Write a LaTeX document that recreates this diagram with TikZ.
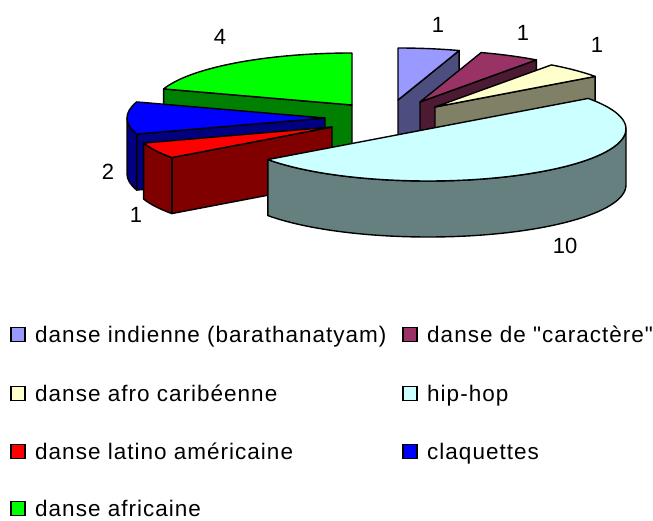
\documentclass[tikz,border=0pt]{standalone}
\usepackage{fontspec}
\setmainfont{Liberation Sans}
\newfontfamily\legfont[LetterSpace=4.5]{Liberation Sans}
\usetikzlibrary{calc}
\definecolor{indT}{HTML}{9999FF}\definecolor{indS}{HTML}{4D4D80}
\definecolor{carT}{HTML}{993366}\definecolor{carS}{HTML}{4D1A33}
\definecolor{afrT}{HTML}{FFFFCC}\definecolor{afrS}{HTML}{808066}
\definecolor{hipT}{HTML}{CCFFFF}\definecolor{hipS}{HTML}{668080}
\definecolor{latT}{HTML}{FF0000}\definecolor{latS}{HTML}{800000}
\definecolor{claT}{HTML}{0000FF}\definecolor{claS}{HTML}{000080}
\definecolor{afcT}{HTML}{00FF00}\definecolor{afcS}{HTML}{008000}
% top face: center, start angle, end angle, colour
\newcommand\topface[4]{\filldraw[face,fill=#4] (#1) -- ($(#1)+(#2:198 and 52)$) arc[start angle=#2,end angle=#3,x radius=198,y radius=52] -- cycle;}
% outer curved side: center, start, end, colour
\newcommand\outerside[4]{\filldraw[face,fill=#4] ($(#1)+(#2:198 and 52)$) arc[start angle=#2,end angle=#3,x radius=198,y radius=52] -- ++(0,-56) arc[start angle=#3,end angle=#2,x radius=198,y radius=52] -- cycle;}
% radial cut face: center, angle, colour
\newcommand\radialface[3]{\filldraw[face,fill=#3] (#1) -- ($(#1)+(#2:198 and 52)$) -- ++(0,-56) -- ($(#1)+(0,-56)$) -- cycle;}
\begin{document}
\begin{tikzpicture}[x=1pt,y=1pt,
  face/.style={draw=black,line width=1.4pt,line join=round},
  lab/.style={inner sep=0pt,font=\fontsize{22}{26}\selectfont},
  leg/.style={inner sep=0pt,anchor=base west,font=\legfont\fontsize{22.5}{26}\selectfont},
  swatch/.style={draw=black,line width=1.2pt}]
\useasboundingbox (0,0) rectangle (653,520);
% slice centres
\coordinate (cI) at (398,420);
\coordinate (cK) at (420,418);
\coordinate (cA) at (435,413);
\coordinate (cH) at (428,391);
\coordinate (cL) at (332,393);
\coordinate (cC) at (325,402);
\coordinate (cG) at (352,415);
% danse africaine
\radialface{cG}{162}{afcS}
\topface{cG}{90}{162}{afcT}
% claquettes
\radialface{cC}{198}{claS}
\outerside{cC}{180}{198}{claS}
\topface{cC}{162}{198}{claT}
% danse latino americaine
\radialface{cL}{216}{latS}
\outerside{cL}{198}{216}{latS}
\topface{cL}{198}{216}{latT}
% danse indienne
\radialface{cI}{72}{indS}
\topface{cI}{72}{90}{indT}
% danse de caractere
\radialface{cK}{54}{carS}
\topface{cK}{54}{72}{carT}
% danse afro caribeenne
\radialface{cA}{36}{afrS}
\topface{cA}{36}{54}{afrT}
% hip-hop
\outerside{cH}{-144}{0}{hipS}
\topface{cH}{-144}{36}{hipT}
% value labels
\node[lab] (vI) at (438,495) {1};
\node[lab] (vK) at (523,487) {1};
\node[lab] (vA) at (597,475) {1};
\node[lab] (vH) at (565,274) {10};
\node[lab] (vL) at (136,305) {1};
\node[lab] (vC) at (108,348) {2};
\node[lab] (vG) at (220,483) {4};
% legend
\filldraw[swatch,fill=indT] (11,178.5) rectangle (25,192.5);
\node[leg] (tI) at (35,178) {danse indienne (barathanatyam)};
\filldraw[swatch,fill=carT] (403,178.5) rectangle (417,192.5);
\node[leg] (tK) at (427,178) {danse de "caractère"};
\filldraw[swatch,fill=afrT] (11,119.5) rectangle (25,133.5);
\node[leg] (tA) at (35,119) {danse afro caribéenne};
\filldraw[swatch,fill=hipT] (403,119.5) rectangle (417,133.5);
\node[leg] (tH) at (427,119) {hip-hop};
\filldraw[swatch,fill=latT] (11,61.5) rectangle (25,75.5);
\node[leg] (tL) at (35,61) {danse latino américaine};
\filldraw[swatch,fill=claT] (403,61.5) rectangle (417,75.5);
\node[leg] (tC) at (427,61) {claquettes};
\filldraw[swatch,fill=afcT] (11,4.5) rectangle (25,18.5);
\node[leg] (tG) at (35,4) {danse africaine};
\end{tikzpicture}
\end{document}
